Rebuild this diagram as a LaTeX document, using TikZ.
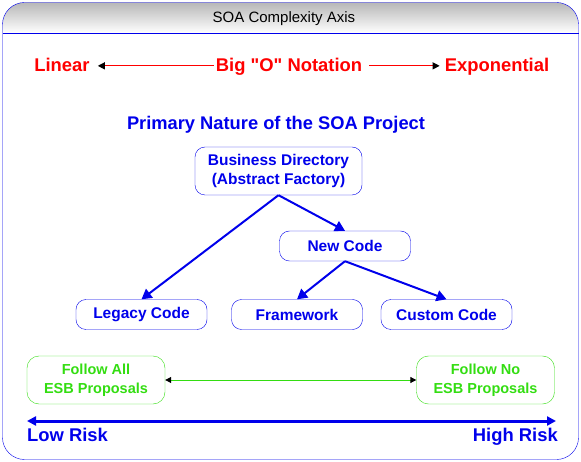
\documentclass[tikz,border=0pt]{standalone}
\usepackage{fontspec}
\setmainfont{Liberation Sans}[Ligatures=TeXOff]
\usepackage{tikz}
\usetikzlibrary{arrows.meta,positioning}
\definecolor{soablue}{RGB}{0,0,235}
\definecolor{soared}{RGB}{255,0,0}
\definecolor{soagreen}{RGB}{51,221,17}

\begin{document}
\begin{tikzpicture}[x=1pt, y=-1pt,
      box/.style={draw=soablue, rounded corners=10pt, text=soablue, minimum width=131pt,
                  minimum height=30pt, font=\fontsize{15.5}{19}\selectfont\bfseries, align=center},
      gbox/.style={draw=soagreen, rounded corners=12pt, text=soagreen, minimum width=138pt,
                   minimum height=48pt, font=\fontsize{14.5}{19}\selectfont\bfseries, align=center},
      axlbl/.style={font=\fontsize{18.4}{22}\selectfont\bfseries, inner sep=0pt},
      arr/.style={-{Triangle[length=10pt,width=11pt]}, line width=2pt, color=soablue},
      thinarr/.style={-{Triangle[color=black,length=7pt,width=7pt]}, line width=1.1pt},
      dblarr/.style={{Triangle[color=black,length=6pt,width=6pt]}-{Triangle[color=black,length=6pt,width=6pt]}, line width=1pt},
      axis/.style={{Triangle[length=9pt,width=9pt]}-{Triangle[length=9pt,width=9pt]}, line width=3pt, color=soablue}
  ]
    \useasboundingbox (0,0) rectangle (581,462);
    % frame and header
    \begin{scope}
      \clip[rounded corners=22pt] (2.5,2.5) rectangle (578.5,459.5);
      \shade[top color=black!28, bottom color=white] (2.5,2.5) rectangle (578.5,33);
    \end{scope}
    \draw[soablue, rounded corners=22pt] (2.5,2.5) rectangle (578.5,459.5);
    \draw[soablue] (2.5,33) -- (578.5,33);
    \node[font=\fontsize{15}{18}\selectfont, anchor=base] (title) at (284,22.5) {SOA Complexity Axis};
    % complexity row
    \node[axlbl, text=soared, anchor=base] (lin) at (62,72) {Linear};
    \node[axlbl, text=soared, anchor=base] (bigo) at (289,72) {Big "O" Notation};
    \node[axlbl, text=soared, anchor=base] (expo) at (497,72) {Exponential};
    \draw[thinarr, soared, shorten <=2pt, shorten >=8pt] ([yshift=3.5pt]bigo.mid west) -- ([yshift=3.5pt]lin.mid east);
    \draw[thinarr, soared, shorten <=7pt, shorten >=5pt] ([yshift=3.5pt]bigo.mid east) -- ([yshift=3.5pt]expo.mid west);
    % project tree
    \node[font=\fontsize{18.3}{22}\selectfont\bfseries, text=soablue, anchor=base] (proj) at (276,130) {Primary Nature of the SOA Project};
    \node[box, minimum width=167pt, minimum height=48pt] (bd) at (278.5,171) {Business Directory\\(Abstract Factory)};
    \node[box] (new) at (345,246) {New Code};
    \node[box] (leg) at (141.5,314.5) {Legacy Code};
    \node[box] (fw) at (297,314.5) {Framework};
    \node[box] (cc) at (446.5,314.5) {Custom Code};
    \draw[arr] (bd.south) -- (leg.north);
    \draw[arr] (bd.south) -- (new.north);
    \draw[arr] (new.south) -- (fw.north);
    \draw[arr] (new.south) -- (cc.north);
    % ESB proposals
    \node[gbox] (fa) at (96,380) {Follow All\\ESB Proposals};
    \node[gbox] (fn) at (485.5,380) {Follow No\\ESB Proposals};
    \draw[dblarr, soagreen] (fa) -- (fn);
    % risk axis
    \coordinate (lo) at (27,421);
    \coordinate (hi) at (556,421);
    \draw[axis] (lo) -- (hi);
    \node[axlbl, text=soablue, anchor=base west] (low) at (27,441) {Low Risk};
    \node[axlbl, text=soablue, anchor=base east] (high) at (558,441) {High Risk};
\end{tikzpicture}
\end{document}
